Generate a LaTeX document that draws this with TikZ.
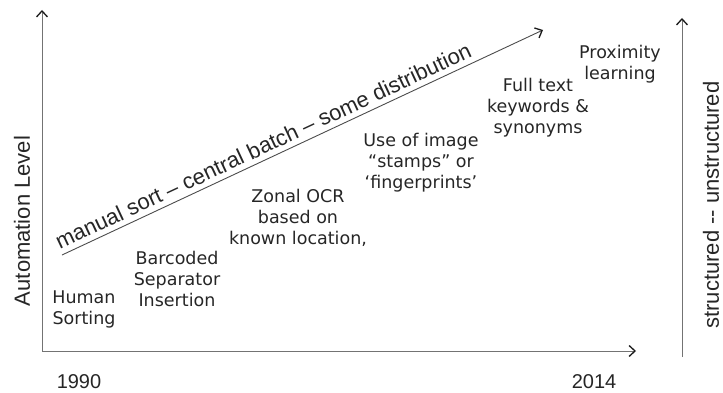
\documentclass[tikz,border=0pt]{standalone}
\usepackage{fontspec}
\usepackage{tikz}
\usetikzlibrary{arrows.meta}
\newfontfamily\axisfont{Liberation Sans}
\newfontfamily\stagefont{DejaVu Sans}
\tikzset{%
  >={Straight Barb[length=6pt,width=11pt,line width=1.3pt,color=black!90]},
  % Specifications for style of nodes and lines:
        axis/.style = {draw=black!55, line width=1pt, ->},
       trend/.style = {draw=black!70, line width=0.9pt, ->},
    axislabel/.style = {font=\axisfont\fontsize{22}{26}\selectfont, text=black!85},
      yearlabel/.style = {font=\axisfont\fontsize{20}{24}\selectfont, text=black!85,
                          inner sep=0pt},
  stage/.style = {font=\stagefont\fontsize{17.5}{21}\selectfont, text=black!85,
                  align=center, inner sep=0pt},
}

\begin{document}
\begin{tikzpicture}[x=1pt, y=1pt]
  \useasboundingbox (0,0) rectangle (723,392);
  % Specification of axis end points
  \coordinate (origin)  at (42,41);
  \coordinate (xend)    at (636,41);
  \coordinate (yend)    at (42,382);
  \coordinate (trendstart) at (62,137);
  \coordinate (trendend)   at (543,362);
  \coordinate (sustart) at (682,35);
  \coordinate (suend)   at (682,374);
  % Specification of nodes (position, etc.)
  \node (autolevel) [axislabel, rotate=90] at (22,171) {Automation Level};
  \node (sulabel)   [axislabel, rotate=90] at (711,187) {structured \mbox{-}\mbox{-} unstructured};
  \node (startyear) [yearlabel] at (79,10)  {1990};
  \node (endyear)   [yearlabel] at (594,10) {2014};
  \node (human)     [stage] at (84,83)   {Human\\Sorting};
  \node (barcode)   [stage] at (177,113) {Barcoded\\Separator\\Insertion};
  \node (zonal)     [stage] at (298,174) {Zonal OCR\\based on\\known location,};
  \node (stamps)    [stage] at (421,229) {Use of image\\“stamps” or\\‘fingerprints’};
  \node (fulltext)  [stage] at (538,284) {Full text\\keywords \&\\synonyms};
  \node (proximity) [stage] at (620,328) {Proximity\\learning};
  % Specification of lines between coordinates specified above
  \draw[axis] (origin) -- (yend);
  \draw[axis] (origin) -- (xend);
  \draw[axis] (sustart) -- (suend);
  \draw[trend] (trendstart) -- node[axislabel, sloped, above, pos=0.43, inner sep=5pt]
        {manual sort – central batch – some distribution} (trendend);
\end{tikzpicture}
\end{document}
